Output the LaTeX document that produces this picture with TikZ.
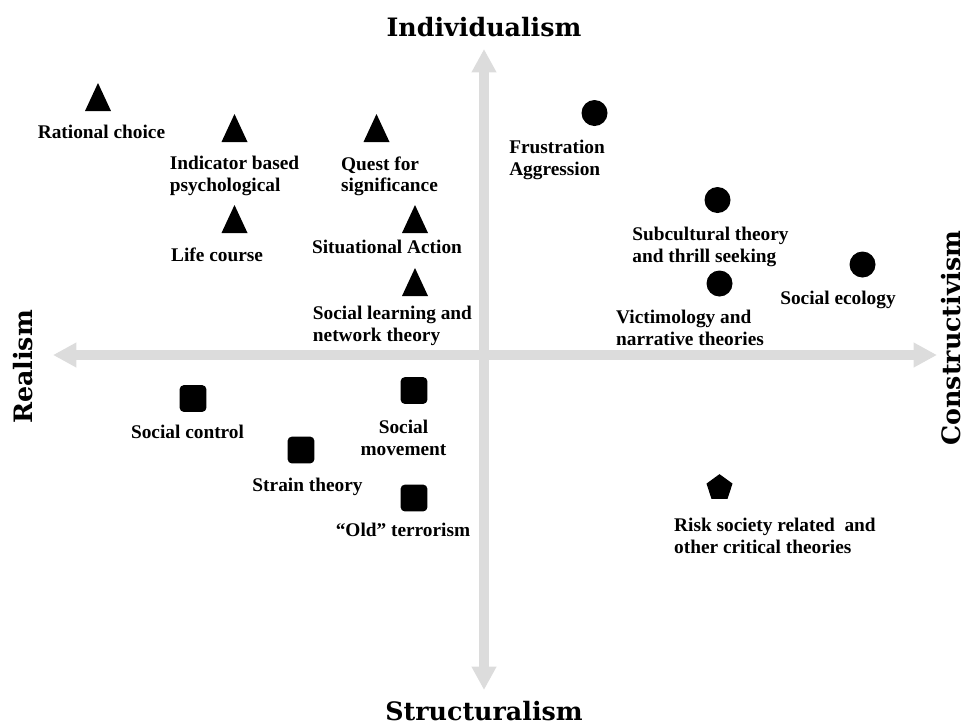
\documentclass[tikz,border=0pt]{standalone}
\usepackage{fontspec}
\setmainfont{Liberation Serif}
\newfontfamily\polefont{DejaVu Serif}
\usetikzlibrary{arrows.meta, positioning, shapes.geometric}
\definecolor{axisgray}{RGB}{220,220,220}
\tikzstyle{tri}=[isosceles triangle, isosceles triangle stretches, shape border rotate=90, fill=black, inner sep=0pt, minimum width=19.5pt, minimum height=21pt]
\tikzstyle{dot}=[circle, fill=black, inner sep=0pt, minimum size=19.5pt]
\tikzstyle{sqr}=[rectangle, rounded corners=3pt, fill=black, inner sep=0pt, minimum size=20pt]
\tikzstyle{pent}=[regular polygon, regular polygon sides=5, fill=black, inner sep=0pt, minimum size=20.5pt]
\tikzstyle{theory}=[font=\fontsize{14.5}{16.3}\selectfont\bfseries, align=left, inner sep=0pt]
\tikzstyle{pole}=[font=\polefont\fontsize{19}{22}\selectfont\bfseries, inner sep=0pt]
\tikzstyle{axis}=[draw=axisgray, line width=7.5pt, {Triangle[width=17.5pt,length=17.5pt]}-{Triangle[width=17.5pt,length=17.5pt]}]

\begin{document}
\begin{tikzpicture}[x=0.75pt, y=-0.75pt]
  \useasboundingbox (0,0) rectangle (966,726);
  % axes
  \coordinate (up) at (484,49);
  \coordinate (down) at (484,690);
  \coordinate (west) at (53,355);
  \coordinate (east) at (937,355);
  \draw[axis] (down) -- (up);
  \draw[axis] (west) -- (east);
  \node[pole, anchor=base] (indiv) at (484,36) {Individualism};
  \node[pole, anchor=base] (struct) at (484,720) {Structuralism};
  \node[pole, rotate=90, anchor=base] (real) at (32,367) {Realism};
  \node[pole, rotate=90, anchor=base] (constr) at (960,338) {Constructivism};

  % triangles
  \node[tri] (rc) at (98,102.7) {};
  \node[theory, below=10.5pt of rc, xshift=2.6pt] (rcl) {Rational choice};
  \node[tri] (ib) at (234.5,133.7) {};
  \node[theory, below=10.5pt of ib] (ibl) {Indicator based\\psychological};
  \node[tri] (qs) at (376.5,133.7) {};
  \node[theory, below=10.5pt of qs, xshift=9.75pt] (qsl) {Quest for\\significance};
  \node[tri] (lc) at (234.5,224.7) {};
  \node[theory, below=10.5pt of lc, xshift=-13.1pt] (lcl) {Life course};
  \node[tri] (sa) at (415,224.7) {};
  \node[theory, below=5.25pt of sa, xshift=-21pt] (sal) {Situational Action};
  \node[tri] (sl) at (415,287.7) {};
  \node[theory, below=7.5pt of sl, xshift=-16.9pt] (sll) {Social learning and\\network theory};

  % circles
  \node[dot] (fa) at (594.5,113) {};
  \node[theory, below=10.5pt of fa, xshift=-28.1pt] (fal) {Frustration\\Aggression};
  \node[dot] (st) at (717.5,200) {};
  \node[theory, below=10.5pt of st, xshift=-5.25pt] (stl) {Subcultural theory\\and thrill seeking};
  \node[dot] (se) at (862.5,264.5) {};
  \node[theory, below=9.75pt of se, xshift=-18.4pt] (sel) {Social ecology};
  \node[dot] (vn) at (719.5,283.5) {};
  \node[theory, below=9.75pt of vn, xshift=-22.1pt] (vnl) {Victimology and\\narrative theories};

  % squares
  \node[sqr] (sc) at (193,398.5) {};
  \node[theory, below=9.75pt of sc, xshift=-4.1pt] (scl) {Social control};
  \node[sqr] (sm) at (414,390.5) {};
  \node[theory, align=center, below=12pt of sm, xshift=-7.9pt] (sml) {Social\\movement};
  \node[sqr] (sth) at (301,450) {};
  \node[theory, below=10.5pt of sth, xshift=4.9pt] (sthl) {Strain theory};
  \node[sqr] (ot) at (414,498) {};
  \node[theory, below=8.25pt of ot, xshift=-8.25pt] (otl) {``Old'' terrorism};

  % pentagon
  \node[pent] (rs) at (719.5,487.8) {};
  \node[theory, below=14.25pt of rs, xshift=41.6pt] (rsl) {Risk society related \ and\\other critical theories};
\end{tikzpicture}
\end{document}
